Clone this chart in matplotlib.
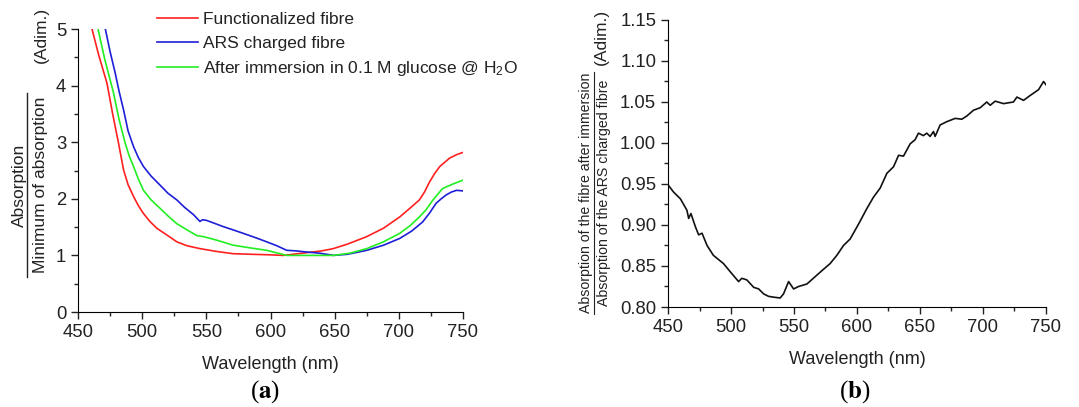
import matplotlib
matplotlib.use('Agg')
import matplotlib.pyplot as plt
from matplotlib.lines import Line2D
from matplotlib.ticker import MultipleLocator

plt.rcParams['font.family'] = ['Liberation Sans', 'DejaVu Sans']
plt.rcParams['mathtext.fontset'] = 'custom'
plt.rcParams['mathtext.rm'] = 'Liberation Sans'
plt.rcParams['mathtext.it'] = 'Liberation Sans:italic'
plt.rcParams['mathtext.bf'] = 'Liberation Sans:bold'

#---------------------DATOS (a)----------------------
wl_func = [460.9, 466, 472.6, 477, 481.6, 485.5, 489, 493.3, 497, 501, 506, 511.4, 518, 527,
           535, 545, 558, 571, 585, 600, 610, 625, 640, 648.9, 660, 674.8, 688, 700.7, 709,
           716, 720, 724, 728, 731.9, 739.6, 745, 750]
abs_func = [5.0, 4.55, 4.04, 3.5, 2.98, 2.51, 2.25, 2.04, 1.88, 1.74, 1.6, 1.48, 1.38, 1.24,
            1.17, 1.12, 1.07, 1.03, 1.02, 1.01, 1.0, 1.04, 1.08, 1.12, 1.2, 1.33, 1.48, 1.68, 1.84,
            1.98, 2.12, 2.30, 2.45, 2.57, 2.72, 2.78, 2.82]

wl_ars = [471.3, 475, 479, 482, 485.5, 489, 493.3, 497, 501, 507, 514, 520, 527, 533, 540,
          545, 547, 550, 556, 563, 571, 580, 590, 597, 605, 612.6, 620, 628, 638, 649, 660,
          675, 688, 700.7, 710, 718.5, 724, 729, 733, 737, 741, 745, 750]
abs_ars = [5.0, 4.6, 4.22, 3.9, 3.57, 3.2, 2.92, 2.73, 2.57, 2.4, 2.24, 2.1, 1.98, 1.85, 1.72,
           1.6, 1.63, 1.62, 1.57, 1.51, 1.45, 1.38, 1.3, 1.24, 1.17, 1.09, 1.08, 1.06, 1.04, 1.0,
           1.02, 1.09, 1.18, 1.30, 1.43, 1.59, 1.75, 1.92, 2.0, 2.07, 2.12, 2.15, 2.14]

wl_glu = [465.6, 471, 477.7, 482, 486.8, 490, 493.3, 497, 501, 507, 514, 520, 527, 535, 542.6,
          548, 558, 571, 585, 597, 612.6, 630, 649, 662, 675, 688, 700.7, 709, 716, 721,
          726.6, 734, 742, 750]
abs_glu = [5.0, 4.45, 3.87, 3.4, 2.98, 2.75, 2.57, 2.35, 2.15, 1.98, 1.83, 1.7, 1.56, 1.45, 1.35,
           1.33, 1.27, 1.18, 1.13, 1.09, 1.0, 1.0, 1.0, 1.04, 1.12, 1.24, 1.39, 1.53, 1.68, 1.8,
           1.98, 2.18, 2.26, 2.33]

#---------------------DATOS (b)----------------------
wl_ratio = [450, 454.5, 459.8, 465, 466.4, 468.2, 471.7, 474.3, 477, 481, 486, 494, 499.4,
            506, 508.6, 512.6, 518, 522, 525.9, 529.8, 533.8, 539, 541.7, 545.7, 549.7, 553.6,
            560.2, 566.8, 573.4, 578.7, 584, 589.3, 594.6, 601.2, 607.8, 613.1, 618.4, 623.7,
            629, 633, 636.9, 642.2, 646.1, 648.8, 652.7, 655.4, 658, 660.7, 662, 666, 671.3,
            677.9, 683.2, 687.2, 692.5, 697.8, 703, 705.7, 709.7, 716.3, 724.2, 726.9, 732.2,
            737.5, 744.1, 748.1, 750]
ratio = [0.949, 0.940, 0.932, 0.918, 0.908, 0.914, 0.898, 0.888, 0.890, 0.875, 0.863, 0.853,
         0.843, 0.831, 0.835, 0.833, 0.824, 0.822, 0.816, 0.813, 0.812, 0.811, 0.816, 0.831,
         0.822, 0.825, 0.828, 0.837, 0.846, 0.853, 0.863, 0.875, 0.883, 0.901, 0.920, 0.934,
         0.945, 0.963, 0.971, 0.985, 0.984, 0.999, 1.004, 1.012, 1.009, 1.012, 1.008, 1.014,
         1.008, 1.022, 1.026, 1.030, 1.029, 1.033, 1.040, 1.043, 1.050, 1.046, 1.051, 1.048,
         1.050, 1.056, 1.052, 1.058, 1.065, 1.075, 1.071]

txt = '#222222'
fs = 12.5
fs_tick = 13.3

fig = plt.figure(figsize=(10.79, 4.07), dpi=100)

def estilo(ax):
  ax.spines['top'].set_visible(False)
  ax.spines['right'].set_visible(False)
  ax.tick_params(which='both', direction='out', colors=txt, labelsize=fs_tick, width=1)
  ax.tick_params(which='major', length=5)
  ax.tick_params(which='minor', length=3)
  ax.xaxis.set_major_locator(MultipleLocator(50))
  ax.xaxis.set_minor_locator(MultipleLocator(25))
  ax.set_xlim(450, 750)
  ax.set_xlabel('Wavelength (nm)', fontsize=13, color=txt, labelpad=11)

#---------------------GRAFICA (a)----------------------
ax1 = fig.add_axes([0.0723, 0.2334, 0.3568, 0.6953])
estilo(ax1)
ax1.plot(wl_func, abs_func, color='#ff2020', lw=1.2, label='Functionalized fibre')
ax1.plot(wl_ars, abs_ars, color='#1e1ed8', lw=1.2, label='ARS charged fibre')
ax1.plot(wl_glu, abs_glu, color='#22ee22', lw=1.2, label='After immersion in 0.1 M glucose @ H$_2$O')
ax1.set_ylim(0, 5)
ax1.yaxis.set_major_locator(MultipleLocator(1))
ax1.yaxis.set_minor_locator(MultipleLocator(0.5))
ax1.legend(loc='upper left', bbox_to_anchor=(157 / 1079, 1 - 12 / 407),
           bbox_transform=fig.transFigure, frameon=False, fontsize=fs,
           handlelength=2.36, handletextpad=0.3, labelspacing=0.48,
           borderpad=0, borderaxespad=0, labelcolor=txt)

#etiqueta eje y (a)
def fy(px):
  return 1 - px / 407

fig.text(19 / 1079, fy(185), 'Absorption', rotation=90, ha='center', va='center', fontsize=fs, color=txt)
fig.text(41 / 1079, fy(185), 'Minimum of absorption', rotation=90, ha='center', va='center', fontsize=fs, color=txt)
fig.text(41 / 1079, fy(35), '(Adim.)', rotation=90, ha='center', va='center', fontsize=fs, color=txt)
fig.add_artist(Line2D([27 / 1079, 27 / 1079], [fy(93), fy(277)], color=txt, lw=1))

#---------------------GRAFICA (b)----------------------
ax2 = fig.add_axes([0.6191, 0.2457, 0.3503, 0.7052])
estilo(ax2)
ax2.plot(wl_ratio, ratio, color='#111111', lw=1.2)
ax2.set_ylim(0.80, 1.15)
ax2.yaxis.set_major_locator(MultipleLocator(0.05))
ax2.yaxis.set_minor_locator(MultipleLocator(0.025))
ax2.yaxis.set_major_formatter(matplotlib.ticker.FormatStrFormatter('%.2f'))

fig.text(586 / 1079, fy(193), 'Absorption of the fibre after immersion', rotation=90, ha='center', va='center', fontsize=10.2, color=txt)
fig.text(604 / 1079, fy(193), 'Absorption of the ARS charged fibre', rotation=90, ha='center', va='center', fontsize=10.2, color=txt)
fig.text(601 / 1079, fy(37), '(Adim.)', rotation=90, ha='center', va='center', fontsize=fs, color=txt)
fig.add_artist(Line2D([594 / 1079, 594 / 1079], [fy(72), fy(314)], color=txt, lw=0.8))

#etiquetas de panel
fig.text(265 / 1079, fy(392), r'($\mathbf{a}$)', ha='center', va='center', fontsize=18,
         family='Liberation Serif', math_fontfamily='stix', color='black')
fig.text(855 / 1079, fy(392), r'($\mathbf{b}$)', ha='center', va='center', fontsize=18,
         family='Liberation Serif', math_fontfamily='stix', color='black')

fig.savefig('out.png', dpi=100)
